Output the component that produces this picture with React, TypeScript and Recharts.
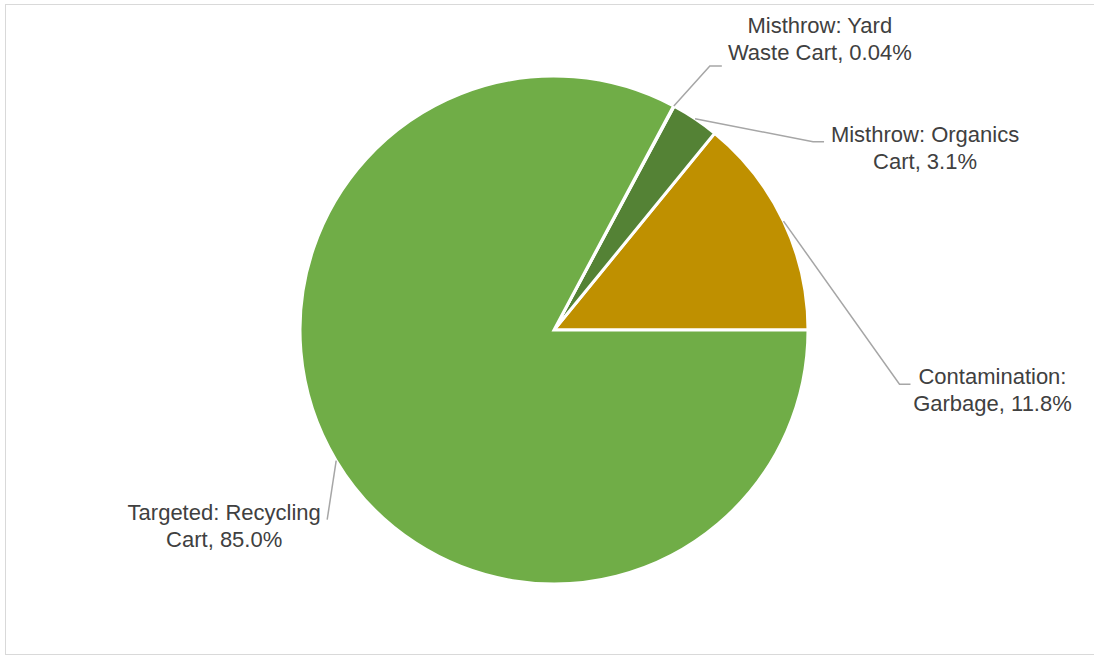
import { PieChart, Pie, Cell } from 'recharts'

// slice order runs counter-clockwise from 3 o'clock
const categories = [
  'Contamination: Garbage',
  'Misthrow: Organics Cart',
  'Misthrow: Yard Waste Cart',
  'Targeted: Recycling Cart',
]
// share as drawn
const shares = [14.1, 3.06, 0.04, 82.8]
// label text as printed on the chart
const labelLines = [
  ['Contamination:', 'Garbage, 11.8%'],
  ['Misthrow: Organics', 'Cart, 3.1%'],
  ['Misthrow: Yard', 'Waste Cart, 0.04%'],
  ['Targeted: Recycling', 'Cart, 85.0%'],
]

const colors = ['#BF9000', '#548235', '#548235', '#70AD47']

// leader elbow and text offsets relative to the slice edge point
const labelLayout = [
  { elbow: [116, 163], tail: 11, text: [209, 163] },
  { elbow: [118, 23], tail: 11, text: [230, 23] },
  { elbow: [36, -40], tail: 12, text: [146, -73] },
  { elbow: [-9, 59], tail: 0, text: [-112, 59] },
]

const data = categories.map((name, i) => ({ name, value: shares[i] }))

const RAD = Math.PI / 180

function renderLabel(props: any) {
  const { cx, cy, midAngle, outerRadius, index } = props
  const x0 = cx + outerRadius * Math.cos(-midAngle * RAD)
  const y0 = cy + outerRadius * Math.sin(-midAngle * RAD)
  const lay = labelLayout[index]
  const ex = x0 + lay.elbow[0]
  const ey = y0 + lay.elbow[1]
  const tx = x0 + lay.text[0]
  const ty = y0 + lay.text[1]
  const lines = labelLines[index]
  return (
    <g key={`lbl-${index}`}>
      <polyline
        points={`${x0},${y0} ${ex},${ey} ${ex + lay.tail},${ey}`}
        fill="none"
        stroke="#A6A6A6"
        strokeWidth={1.5}
      />
      <text x={tx} y={ty} textAnchor="middle" fill="#404040" fontSize={22} fontFamily="Liberation Sans, Arial, sans-serif">
        <tspan x={tx} y={ty}>{lines[0]}</tspan>
        <tspan x={tx} y={ty + 27}>{lines[1]}</tspan>
      </text>
    </g>
  )
}

export default function App() {
  return (
    <div style={{ position: 'absolute', left: 0, top: 0, width: 1094, height: 656, background: '#fff', overflow: 'hidden' }}>
      <div
        style={{
          position: 'absolute',
          left: 5,
          top: 4,
          width: 1100,
          height: 651,
          border: '1.5px solid #D9D9D9',
          boxSizing: 'border-box',
        }}
      />
      <div style={{ position: 'absolute', left: 0, top: 0 }}>
        <PieChart width={1094} height={656} margin={{ top: 0, right: 0, bottom: 0, left: 0 }}>
          <Pie
            data={data}
            dataKey="value"
            nameKey="name"
            cx={554}
            cy={330}
            outerRadius={254}
            startAngle={0}
            endAngle={360}
            stroke="#fff"
            strokeWidth={3}
            label={renderLabel}
            labelLine={false}
            isAnimationActive={false}
          >
            {data.map((d, i) => (
              <Cell key={d.name} fill={colors[i]} />
            ))}
          </Pie>
        </PieChart>
      </div>
    </div>
  )
}
